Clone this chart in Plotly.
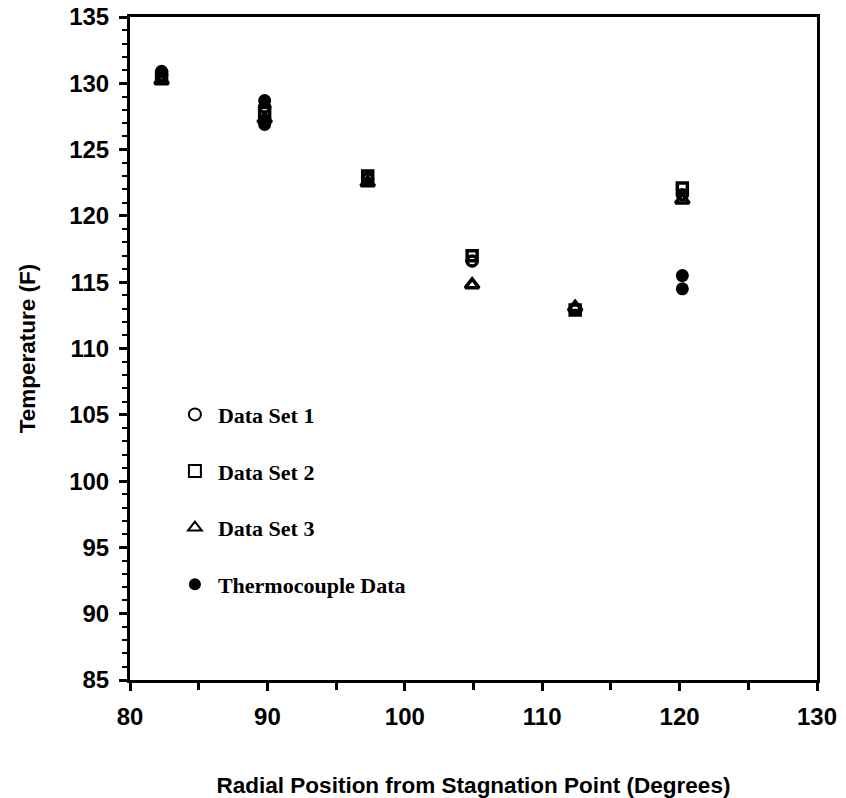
import plotly.graph_objects as go

# Data
x_pos = [82.3, 89.8, 97.3, 104.9, 112.4, 120.2]
set1 = [130.6, 128.2, 122.8, 116.6, 113.0, 121.6]
set2 = [130.5, 127.8, 123.0, 117.0, 112.9, 122.1]
set3 = [130.2, 127.3, 122.5, 114.8, 113.1, 121.2]
thermo_x = [82.3, 89.8, 89.8, 120.2, 120.2]
thermo_y = [130.9, 128.7, 126.9, 115.5, 114.5]

names = ["Data Set 1", "Data Set 2", "Data Set 3", "Thermocouple Data"]

fig = go.Figure()
fig.add_trace(go.Scatter(x=x_pos, y=set1, mode="markers", name=names[0], legendgroup="a",
                         marker=dict(symbol="circle-open", size=10, color="black", line=dict(width=3.5, color="black"))))
fig.add_trace(go.Scatter(x=x_pos, y=set2, mode="markers", name=names[1], legendgroup="b",
                         marker=dict(symbol="square-open", size=10, color="black", line=dict(width=3.5, color="black"))))
fig.add_trace(go.Scatter(x=x_pos, y=set3, mode="markers", name=names[2], legendgroup="c",
                         marker=dict(symbol="triangle-up-open", size=12, color="black", line=dict(width=3.5, color="black"))))
fig.add_trace(go.Scatter(x=thermo_x, y=thermo_y, mode="markers", name=names[3], legendgroup="d",
                         marker=dict(symbol="circle", size=13, color="black")))

tickfont = dict(family="Liberation Sans", size=24, color="black", weight="bold")
titlefont = dict(family="Liberation Sans", size=22.5, color="black", weight="bold")

axis_common = dict(
    showline=True, linecolor="black", linewidth=3, mirror=True,
    ticks="outside", tickcolor="black", tickwidth=2.5, ticklen=8,
    showgrid=False, zeroline=False, automargin=False,
    tickfont=tickfont,
)

fig.update_layout(
    width=846, height=798,
    margin=dict(l=130, r=29, t=17, b=118),
    paper_bgcolor="white", plot_bgcolor="white",
    xaxis=dict(range=[80, 130], tick0=80, dtick=10,
               minor=dict(dtick=5, ticks="outside", ticklen=7, tickwidth=2.5, tickcolor="black"),
               ticklabelstandoff=5,
               title=dict(text="Radial Position from Stagnation Point (Degrees)",
                          font=titlefont, standoff=51),
               **axis_common),
    yaxis=dict(range=[85, 135], tick0=85, dtick=5,
               minor=dict(dtick=1, ticks="outside", ticklen=5, tickwidth=2, tickcolor="black"),
               ticklabelstandoff=5,
               title=dict(text="Temperature (F)", font=titlefont, standoff=28),
               **axis_common),
    showlegend=True,
    legend=dict(x=0.061, y=0.432, xanchor="left", yanchor="top",
                bgcolor="rgba(0,0,0,0)", borderwidth=0,
                tracegroupgap=25, itemsizing="constant", itemwidth=36,
                font=dict(family="Liberation Serif", size=22, color="black", weight="bold")),
)

fig.write_html("out.html")
